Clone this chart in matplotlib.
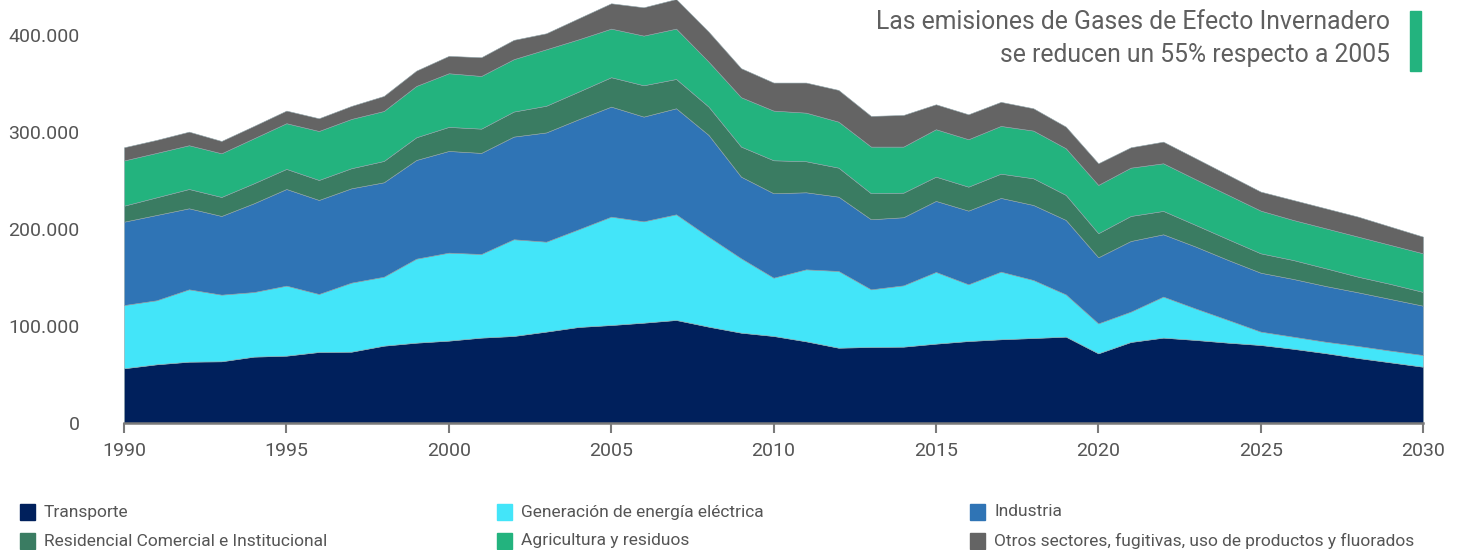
import matplotlib
matplotlib.use("Agg")
import matplotlib.pyplot as plt
from matplotlib.patches import Rectangle

plt.rcParams['font.family'] = ['Roboto', 'DejaVu Sans']

# datos (miles de t CO2eq)
years = list(range(1990, 2031))
transporte = [56.4, 60.5, 63.2, 63.6, 68.4, 69.4, 73.2, 73.5, 79.7, 82.8, 84.9, 88.0, 89.7, 94.2, 99.0,
              101.0, 103.4, 106.2, 99.3, 93.1, 89.7, 84.2, 77.6, 78.4, 78.7, 81.8, 84.5, 86.3, 87.6, 89.0,
              71.8, 83.5, 88.0, 85.6, 82.8, 80.4, 76.5, 72.0, 67.0, 62.5, 58.0]
generacion = [65.2, 66.0, 74.6, 68.7, 66.6, 72.2, 59.8, 71.2, 71.1, 86.6, 90.7, 86.2, 99.7, 92.7, 100.7,
              111.7, 104.5, 108.9, 92.7, 76.7, 60.1, 74.2, 79.1, 59.4, 63.2, 73.9, 58.5, 69.7, 59.8, 43.6,
              30.9, 31.3, 42.3, 32.4, 23.4, 13.8, 12.5, 11.8, 12.4, 12.1, 12.1]
industria = [85.9, 87.9, 83.5, 81.1, 91.5, 99.6, 96.9, 97.2, 97.3, 101.7, 104.8, 104.2, 105.8, 112.6, 113.4,
             113.4, 107.9, 109.3, 104.9, 84.1, 87.0, 79.4, 76.6, 72.2, 70.2, 73.2, 75.9, 76.0, 77.3, 76.7,
             68.1, 72.8, 64.2, 63.8, 61.8, 60.7, 59.5, 57.4, 55.3, 53.2, 50.8]
residencial = [16.5, 18.2, 19.9, 19.6, 20.6, 20.7, 20.6, 20.7, 22.0, 23.4, 24.8, 25.0, 25.8, 27.5, 28.5,
               30.3, 32.3, 30.2, 29.2, 31.0, 34.0, 32.0, 29.9, 26.8, 25.3, 25.0, 24.7, 25.0, 27.5, 25.8,
               24.8, 25.8, 24.1, 22.3, 21.4, 20.0, 19.5, 18.3, 16.1, 15.5, 14.2]
agricultura = [46.6, 45.8, 45.1, 45.0, 46.4, 47.1, 50.5, 50.8, 51.5, 52.9, 55.3, 54.3, 54.0, 58.2, 53.9,
               50.1, 51.2, 51.9, 46.4, 50.9, 51.2, 50.1, 47.4, 48.1, 47.5, 48.9, 48.9, 49.2, 49.2, 48.1,
               49.8, 49.8, 49.1, 47.1, 45.7, 44.0, 41.3, 41.2, 41.3, 40.2, 39.8]
otros = [13.6, 13.4, 14.0, 12.7, 12.7, 13.0, 13.1, 13.4, 15.5, 15.8, 17.9, 19.3, 19.9, 16.5, 21.7,
         26.1, 29.2, 30.5, 30.9, 29.9, 28.9, 31.0, 32.7, 31.6, 32.6, 25.7, 25.7, 24.8, 23.0, 22.3,
         22.3, 21.0, 22.3, 21.7, 20.6, 19.6, 20.6, 20.6, 20.6, 18.9, 17.2]

sectores = ["Transporte", "Generación de energía eléctrica", "Industria",
            "Residencial Comercial e Institucional", "Agricultura y residuos",
            "Otros sectores, fugitivas, uso de productos y fluorados"]
colores = ["#00205C", "#43E5F9", "#2F74B5", "#3A7C62", "#23B37E", "#646464"]

series = [[v * 1000 for v in s] for s in
          [transporte, generacion, industria, residencial, agricultura, otros]]

fig = plt.figure(figsize=(14.6, 5.5), dpi=100)
ax = fig.add_axes([124 / 1460, 127 / 550, 1299 / 1460, 423 / 550])
ax.stackplot(years, *series, colors=colores, edgecolor="#8fa3a8", linewidth=0.4)

ax.set_xlim(1990, 2030)
ax.set_ylim(0, 436000)
ax.set_xticks(range(1990, 2031, 5))
ax.set_yticks(range(0, 400001, 100000))
ax.set_yticklabels(["0" if v == 0 else f"{v:,}".replace(",", ".") for v in range(0, 400001, 100000)])
for s in ["top", "right", "left"]:
    ax.spines[s].set_visible(False)
ax.spines["bottom"].set_color("#7a7a7a")
ax.spines["bottom"].set_linewidth(1.8)
ax.tick_params(axis="x", colors="#7a7a7a", length=7, width=1.5, labelsize=14, pad=7, labelcolor="#555555")
ax.tick_params(axis="y", length=0, labelsize=14, pad=32, labelcolor="#555555")

# titulo
fig.text(1390 / 1460, 1 - 22 / 550, "Las emisiones de Gases de Efecto Invernadero",
         ha="right", va="center", fontsize=17.8, color="#5f5f5f")
fig.text(1390 / 1460, 1 - 55 / 550, "se reducen un 55% respecto a 2005",
         ha="right", va="center", fontsize=17.8, color="#5f5f5f")
fig.patches.append(Rectangle((1410 / 1460, 1 - 71 / 550), 11 / 1460, 60 / 550,
                             transform=fig.transFigure, color="#23B37E"))

# leyenda
col_x = [20, 497, 970]
row_y = [512, 541]
for k in range(len(sectores)):
    cx = col_x[k % 3]
    cy = row_y[k // 3]
    fig.patches.append(Rectangle((cx / 1460, 1 - (cy + 8) / 550), 15 / 1460, 16 / 550,
                                 transform=fig.transFigure, color=colores[k]))
    fig.text((cx + 24) / 1460, 1 - cy / 550, sectores[k], ha="left", va="center",
             fontsize=12.5, color="#555555")

fig.savefig("out.png", dpi=100)
